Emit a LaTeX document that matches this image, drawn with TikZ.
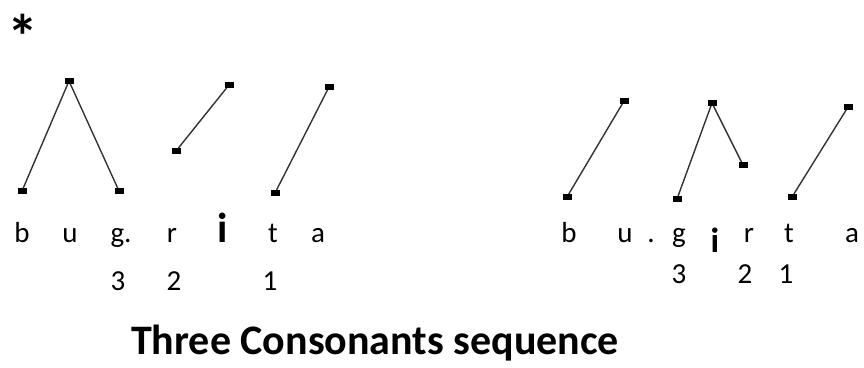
\documentclass[tikz,border=0pt]{standalone}
\usepackage{fontspec}
\setmainfont{Carlito}
\begin{document}
\begin{tikzpicture}[x=1pt,y=-1pt,
  mk/.style={rectangle,fill=black,minimum width=9pt,minimum height=5.5pt,inner sep=0pt},
  tie/.style={line width=1.4pt,draw=black!80},
  seg/.style={anchor=base,inner sep=0pt,font=\fontsize{29}{31}\selectfont},
  num/.style={anchor=base,inner sep=0pt,font=\fontsize{29}{31}\selectfont},
  vow/.style={anchor=base,inner sep=0pt,font=\fontsize{42}{44}\selectfont\bfseries},
  vows/.style={anchor=base,inner sep=0pt,font=\fontsize{35}{37}\selectfont\bfseries},
  caption/.style={anchor=base west,inner sep=0pt,font=\fontsize{42}{46}\selectfont\bfseries}]
\useasboundingbox (0,0) rectangle (864,367);

% ungrammatical mark
\node[anchor=base,inner sep=0pt,font=\fontsize{62}{62}\selectfont\bfseries] (star) at (23,58) {*};

% left form: b u g. r i t a
\node[mk] (l1) at (22,191) {};
\node[mk] (l2) at (69,81) {};
\node[mk] (l3) at (119,191) {};
\node[mk] (l4) at (176,151) {};
\node[mk] (l5) at (229,85) {};
\node[mk] (l6) at (275,193) {};
\node[mk] (l7) at (329,87) {};
\draw[tie] (l1) -- (l2) -- (l3);
\draw[tie] (l4) -- (l5);
\draw[tie] (l6) -- (l7);

\node[seg] (lb) at (22,242) {b};
\node[seg] (lu) at (70,242) {u};
\node[seg] (lg) at (121,242) {g.};
\node[seg] (lr) at (172,242) {r};
\node[vow] (li) at (223,242) {i};
\node[seg] (lt) at (273,242) {t};
\node[seg] (la) at (318,242) {a};
\node[num] (l3n) at (118,290) {3};
\node[num] (l2n) at (174,290) {2};
\node[num] (l1n) at (270,290) {1};

% right form: b u . g i r t a
\node[mk] (r1) at (567,197) {};
\node[mk] (r2) at (624,101) {};
\node[mk] (r3) at (677,199) {};
\node[mk] (r4) at (712,103) {};
\node[mk] (r5) at (743,165) {};
\node[mk] (r6) at (792,197) {};
\node[mk] (r7) at (848,107) {};
\draw[tie] (r1) -- (r2);
\draw[tie] (r3) -- (r4) -- (r5);
\draw[tie] (r6) -- (r7);

\node[seg] (rb) at (569,242) {b};
\node[seg] (ru) at (625,242) {u};
\node[seg] (rdot) at (651,242) {.};
\node[seg] (rg) at (679,242) {g};
\node[vows] (ri) at (715,252) {i};
\node[seg] (rr) at (749,242) {r};
\node[seg] (rt) at (789,242) {t};
\node[seg] (ra) at (852,242) {a};
\node[num] (r3n) at (679,283) {3};
\node[num] (r2n) at (745,283) {2};
\node[num] (r1n) at (786,283) {1};

% caption
\node[caption] (title) at (131,354) {Three Consonants sequence};
\end{tikzpicture}
\end{document}
